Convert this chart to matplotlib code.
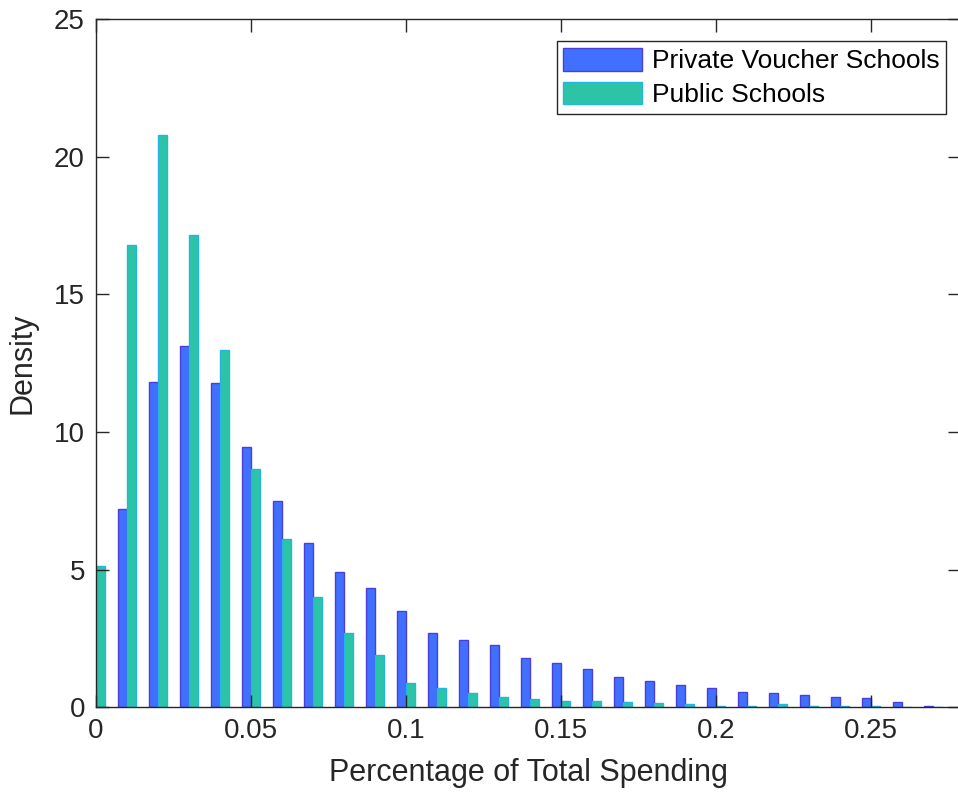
import numpy as np
import matplotlib.pyplot as plt

plt.rcParams['font.family'] = ['Liberation Sans', 'DejaVu Sans']

# bin centres (share of total spending)
bins = np.arange(28) * 0.01

private_voucher = [0.0, 7.21, 11.83, 13.14, 11.77, 9.47, 7.51, 5.96, 4.91, 4.34,
                   3.48, 2.71, 2.43, 2.25, 1.79, 1.59, 1.37, 1.11, 0.94, 0.81,
                   0.70, 0.54, 0.50, 0.46, 0.37, 0.35, 0.19, 0.04]
public = [5.12, 16.79, 20.81, 17.17, 12.99, 8.64, 6.11, 4.0, 2.70, 1.88,
          0.88, 0.71, 0.53, 0.37, 0.28, 0.24, 0.23, 0.18, 0.15, 0.13,
          0.06, 0.06, 0.12, 0.06, 0.04, 0.06, 0.01, 0.01]

txt = '#262626'
w = 0.0030

fig = plt.figure(figsize=(9.58, 8), dpi=100)
ax = fig.add_axes([0.1002, 0.116, 0.9019, 0.860])

# blue bar sits left of the bin centre, green bar right of it
ax.bar(bins, private_voucher, width=-w, align='edge', color='#4170FF',
       edgecolor='#4B3FD9', linewidth=1.0, label='Private Voucher Schools')
ax.bar(bins, public, width=w, align='edge', color='#2CC3A6',
       edgecolor='#22B5E5', linewidth=1.0, label='Public Schools')

ax.set_xlim(0, 0.2787)
ax.set_ylim(0, 25)
ax.set_xticks([0, 0.05, 0.1, 0.15, 0.2, 0.25])
ax.set_xticklabels(['0', '0.05', '0.1', '0.15', '0.2', '0.25'])
ax.set_yticks([0, 5, 10, 15, 20, 25])

ax.tick_params(direction='in', length=9, width=1, colors=txt, labelsize=20,
               top=True, right=True, pad=8)
for s in ax.spines.values():
    s.set_color(txt)
    s.set_linewidth(1.0)

ax.set_xlabel('Percentage of Total Spending', fontsize=22, color=txt, labelpad=10)
ax.set_ylabel('Density', fontsize=22, color=txt, labelpad=12)

leg = ax.legend(loc='upper right', bbox_to_anchor=(0.9835, 0.968), fontsize=19,
                fancybox=False, framealpha=1, edgecolor=txt, borderpad=0.25,
                handlelength=3.0, handleheight=0.95, handletextpad=0.35,
                labelspacing=0.32, borderaxespad=0)
leg.get_frame().set_linewidth(1.0)

fig.savefig('out.png', dpi=100)
